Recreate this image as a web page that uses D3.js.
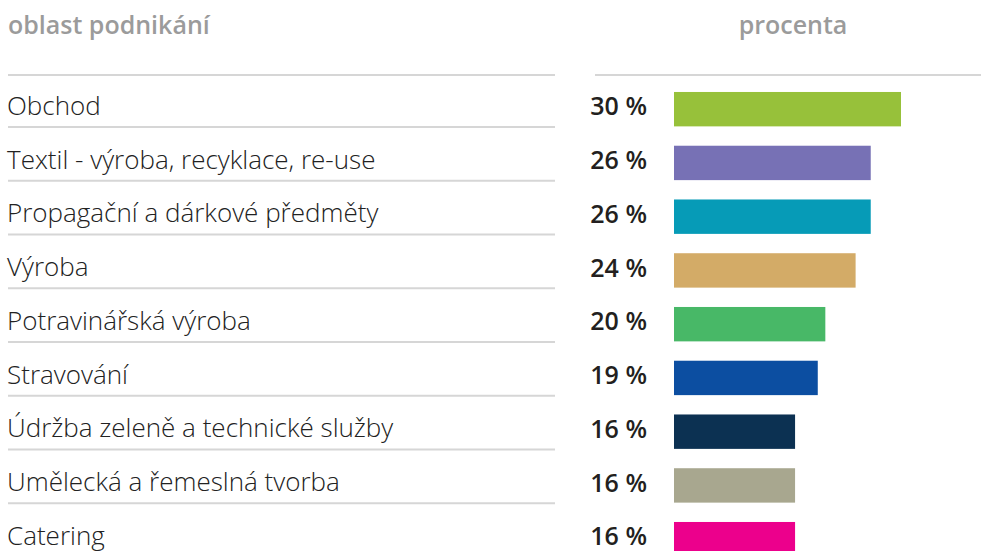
<!DOCTYPE html>
<html>
<head>
<meta charset="utf-8">
<script src="https://cdn.jsdelivr.net/npm/d3@7"></script>
<style>
  body { margin: 0; background: #fff; }
  .label { font-family: "Open Sans", sans-serif; font-weight: 300; fill: #222; }
  .head { font-family: "Open Sans", sans-serif; font-weight: 600; fill: #9b9b9b; }
  .value { font-family: "Open Sans", sans-serif; font-weight: 600; fill: #231f20; }
</style>
</head>
<body>
<svg id="chart"></svg>
<script>
var categories = [
    "Obchod",
    "Textil - výroba, recyklace, re-use",
    "Propagační a dárkové předměty",
    "Výroba",
    "Potravinářská výroba",
    "Stravování",
    "Údržba zeleně a technické služby",
    "Umělecká a řemeslná tvorba",
    "Catering"
];
var values = [30, 26, 26, 24, 20, 19, 16, 16, 16];
var colors = ["#97c13a", "#7771b5", "#069bb7", "#d3ab67", "#48b867", "#0c4ea1", "#0c3152", "#a8a78f", "#ec008c"];
var headers = ["oblast podnikání", "procenta"];

var width = 981,
    height = 551;

var data = categories.map(function(c, i) {
    return {name: c, value: values[i], color: colors[i]};
});

var svg = d3.select("#chart")
    .attr("width", width)
    .attr("height", height);

var step = 53.75;
var yScale = d3.scaleBand()
    .domain(categories)
    .range([82.3, 82.3 + step * categories.length])
    .paddingInner(0.36)
    .paddingOuter(0.18);

var xScale = d3.scaleLinear()
    .domain([0, 30])
    .range([674, 901]);

// headers
svg.append("text")
    .attr("class", "head")
    .attr("x", 8)
    .attr("y", 34)
    .style("font-size", "25px")
    .text(headers[0]);

svg.append("text")
    .attr("class", "head")
    .attr("x", 793)
    .attr("y", 34)
    .style("font-size", "25px")
    .style("text-anchor", "middle")
    .text(headers[1]);

svg.append("line")
    .attr("x1", 8).attr("x2", 555)
    .attr("y1", 75).attr("y2", 75)
    .attr("stroke", "#d6d6d6").attr("stroke-width", 2);

svg.append("line")
    .attr("x1", 595).attr("x2", 981)
    .attr("y1", 75).attr("y2", 75)
    .attr("stroke", "#d6d6d6").attr("stroke-width", 2);

var rows = svg.selectAll(".row")
    .data(data)
    .enter()
    .append("g")
    .attr("class", "row");

rows.append("line")
    .attr("x1", 8).attr("x2", 555)
    .attr("y1", function(d) { return yScale(d.name) + yScale.bandwidth() + 0.5; })
    .attr("y2", function(d) { return yScale(d.name) + yScale.bandwidth() + 0.5; })
    .attr("stroke", "#d6d6d6").attr("stroke-width", 2);

rows.append("text")
    .attr("class", "label")
    .attr("x", 7)
    .attr("y", function(d) { return yScale(d.name) + 23; })
    .style("font-size", "26px")
    .text(function(d) { return d.name; });

rows.append("text")
    .attr("class", "value")
    .attr("x", 647)
    .attr("y", function(d) { return yScale(d.name) + 23.5; })
    .style("font-size", "25px")
    .style("text-anchor", "end")
    .text(function(d) { return d.value + " %"; });

rows.append("rect")
    .attr("x", xScale(0))
    .attr("y", function(d) { return yScale(d.name); })
    .attr("width", function(d) { return xScale(d.value) - xScale(0); })
    .attr("height", yScale.bandwidth())
    .attr("fill", function(d) { return d.color; });
</script>
</body>
</html>
